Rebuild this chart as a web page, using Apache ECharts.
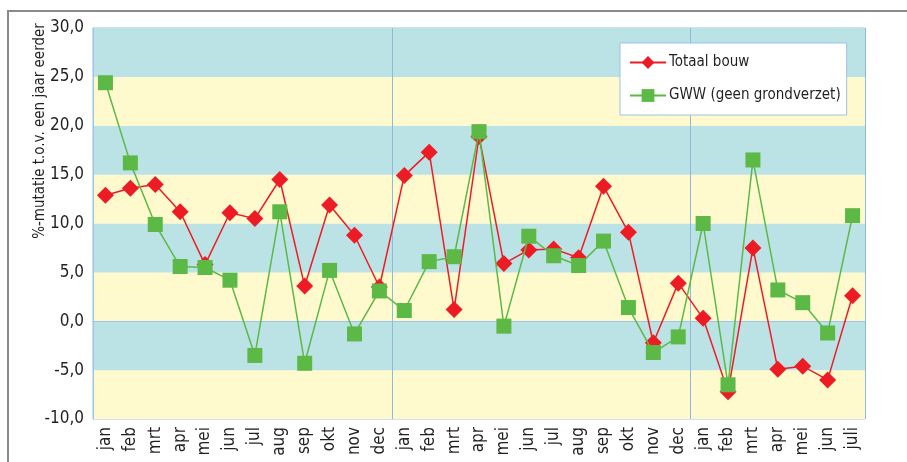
<!DOCTYPE html>
<html>
<head>
<meta charset="utf-8">
<script src="https://cdn.jsdelivr.net/npm/echarts@6/dist/echarts.min.js"></script>
<style>
  html, body { margin: 0; padding: 0; background: #fff; }
  #chart { width: 907px; height: 462px; }
</style>
</head>
<body>
<div id="chart"></div>
<script>
// maanden (31 stuks, drie jaren)
var months = ["jan","feb","mrt","apr","mei","jun","jul","aug","sep","okt","nov","dec",
              "jan","feb","mrt","apr","mei","jun","jul","aug","sep","okt","nov","dec",
              "jan","feb","mrt","apr","mei","jun","juli"];

var totaalBouw = [12.9, 13.6, 14.0, 11.2, 5.8, 11.1, 10.5, 14.5, 3.6, 11.9, 8.8, 3.5,
                  14.9, 17.3, 1.2, 18.9, 5.9, 7.3, 7.4, 6.5, 13.8, 9.1, -2.2, 3.9,
                  0.3, -7.2, 7.5, -4.9, -4.6, -6.0, 2.6];

var gww = [24.4, 16.2, 9.9, 5.6, 5.5, 4.2, -3.5, 11.2, -4.3, 5.2, -1.3, 3.1,
           1.1, 6.1, 6.6, 19.4, -0.5, 8.7, 6.7, 5.7, 8.2, 1.4, -3.2, -1.6,
           10.0, -6.5, 16.5, 3.2, 1.9, -1.2, 10.8];

var yTicks = [-10, -5, 0, 5, 10, 15, 20, 25, 30];

var FONT = "'Liberation Sans Narrow', 'DejaVu Sans Condensed', sans-serif";

var chart = echarts.init(document.getElementById("chart"));

var option = {
  animation: false,
  graphic: [
    {
      // kader rond de figuur
      type: "rect",
      shape: { x: 8, y: 11, width: 920, height: 470 },
      style: { fill: "none", stroke: "#8a8a8a", lineWidth: 2 },
      z: -10
    },
    {
      // as-titel
      type: "text",
      x: 40, y: 131,
      rotation: Math.PI / 2,
      style: {
        text: "%-mutatie t.o.v. een jaar eerder",
        font: "15px " + FONT,
        fill: "#231f20",
        align: "center",
        verticalAlign: "middle"
      }
    }
  ],
  grid: {
    left: 93, right: 42, top: 28, bottom: 43,
    show: true,
    borderColor: "#9dc3e6",
    borderWidth: 1
  },
  legend: {
    left: 620, top: 43,
    orient: "vertical",
    backgroundColor: "#fff",
    borderColor: "#9dc3e6",
    borderWidth: 1,
    padding: [12, 6, 12, 9],
    itemGap: 18,
    itemWidth: 36,
    itemHeight: 16,
    textStyle: { fontFamily: FONT, fontSize: 15, color: "#231f20", padding: [0, 0, 0, -2] },
    data: ["Totaal bouw", "GWW (geen grondverzet)"]
  },
  xAxis: {
    type: "category",
    data: months,
    boundaryGap: true,
    axisLine: { lineStyle: { color: "#9dc3e6" } },
    axisTick: { show: false },
    axisLabel: {
      rotate: 90, interval: 0, margin: 8,
      fontFamily: FONT, fontSize: 17, color: "#231f20"
    },
    splitLine: {
      show: true,
      interval: function (i) { return i === 12 || i === 24; },
      lineStyle: { color: "#8fb8dc", width: 1 }
    }
  },
  yAxis: {
    type: "value",
    min: yTicks[0],
    max: yTicks[yTicks.length - 1],
    interval: 5,
    axisLine: { show: true, lineStyle: { color: "#9dc3e6" } },
    axisTick: { show: false },
    axisLabel: {
      margin: 9,
      fontFamily: FONT, fontSize: 17, color: "#231f20",
      formatter: function (v) { return v.toFixed(1).replace(".", ","); }
    },
    splitLine: { show: false },
    splitArea: {
      show: true,
      areaStyle: { color: ["#fffacd", "#bbe2e5"] }
    }
  },
  series: [
    {
      name: "Totaal bouw",
      type: "line",
      data: totaalBouw,
      symbol: "diamond",
      symbolSize: 17,
      itemStyle: { color: "#ed1c24" },
      lineStyle: { color: "#ed1c24", width: 1.5 },
      z: 3
    },
    {
      name: "GWW (geen grondverzet)",
      type: "line",
      data: gww,
      symbol: "rect",
      symbolSize: 15,
      itemStyle: { color: "#5cb946" },
      lineStyle: { color: "#5cb946", width: 1.5 },
      z: 4
    }
  ]
};

chart.setOption(option);
</script>
</body>
</html>
